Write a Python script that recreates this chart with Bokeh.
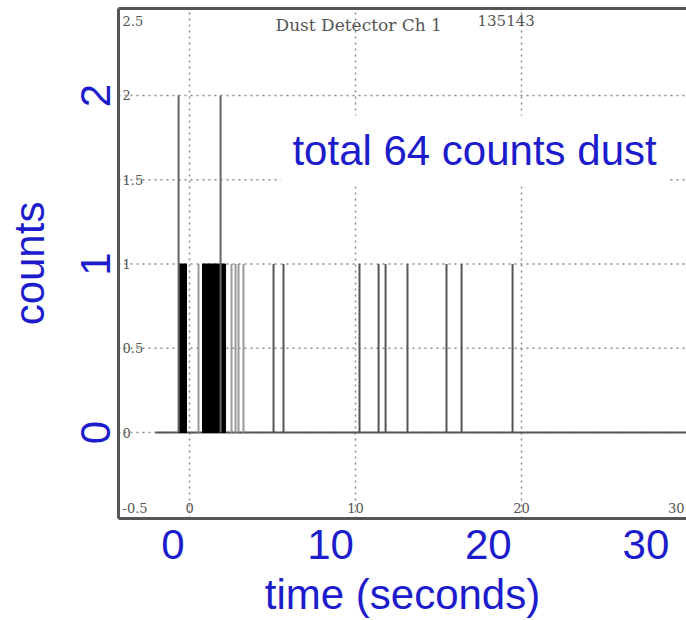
from bokeh.plotting import figure
from bokeh.models import Range1d, FixedTicker, LinearAxis, Label
from bokeh.core.properties import value
from bokeh.embed import file_html
from bokeh.resources import INLINE

# ---- blue overlay axes (time in seconds) ----
x_ticks = [0, 10, 20, 30]
y_ticks = [0, 1, 2]
x_title = "time (seconds)"
y_title = "counts"
note_text = "total 64 counts dust"
note_x = 7.58
note_y = 1.6

# ---- scanned detector plot (its own time axis) ----
scan_title = "Dust Detector  Ch 1"
scan_title_x = 5.18
scan_id = "135143"
scan_id_x = 17.35
scan_xgrid = [0, 10, 20]
scan_ygrid = [0, 0.5, 1, 1.5, 2]
scan_xtick_vals = [0, 10, 20]
scan_xtick_text = ["0", "10", "20"]
scan_xlast_text = "30"
scan_ytick_vals = [2, 1.5, 1, 0.5, 0]
scan_ytick_text = ["2", "1.5", "1", "0.5", "0"]
scan_ytop_text = "2.5"
scan_ybot_text = "-0.5"

# events (scan time units, counts)
double_times = [-0.66, 1.87]
double_counts = [2, 2]
single_times = [5.06, 5.66, 10.24, 11.39, 11.81, 13.13, 15.48, 16.39, 19.46]
single_counts = [1, 1, 1, 1, 1, 1, 1, 1, 1]
faint_times = [0.54, 2.53, 2.77, 2.95, 3.25]
faint_counts = [1, 1, 1, 1, 1]
burst_start = [-0.66, 0.78]
burst_end = [-0.18, 2.17]
burst_counts = [1, 1]
baseline_x = [-2.05, 30.5]

blue = "#1c1ccc"
ink = "#555555"

x_lo, x_hi = -3.45, 32.57
sx_lo, sx_hi = -4.28, 29.94
y_lo, y_hi = -0.51, 2.516

p = figure(width=686, height=620, x_range=Range1d(x_lo, x_hi), y_range=Range1d(y_lo, y_hi),
           output_backend="svg", toolbar_location=None,
           min_border_left=118, min_border_right=0, min_border_top=8, min_border_bottom=102)
p.extra_x_ranges = {"scan": Range1d(sx_lo, sx_hi)}
p.grid.visible = False
p.outline_line_color = None
p.background_fill_color = "white"
p.border_fill_color = "white"

# scanned grid (dotted)
p.segment(x0=scan_xgrid, y0=[y_lo] * len(scan_xgrid), x1=scan_xgrid, y1=[y_hi] * len(scan_xgrid),
          x_range_name="scan", line_color="#8a8a8a", line_width=1.5, line_dash="2 4")
p.segment(x0=[sx_lo] * len(scan_ygrid), y0=scan_ygrid, x1=[sx_hi] * len(scan_ygrid), y1=scan_ygrid,
          x_range_name="scan", line_color="#8a8a8a", line_width=1.5, line_dash="2 4")

# baseline
p.line(x=baseline_x, y=[0, 0], x_range_name="scan", line_color=ink, line_width=2)

# events
p.quad(left=burst_start, right=burst_end, bottom=0, top=burst_counts, x_range_name="scan",
       fill_color="black", line_color="black", line_width=1)
p.segment(x0=faint_times, y0=0, x1=faint_times, y1=faint_counts, x_range_name="scan",
          line_color="#9a9a9a", line_width=2)
p.segment(x0=single_times, y0=0, x1=single_times, y1=single_counts, x_range_name="scan",
          line_color=ink, line_width=2)
p.segment(x0=double_times, y0=0, x1=double_times, y1=double_counts, x_range_name="scan",
          line_color="#666666", line_width=2)

# scanned tick labels
serif = value("DejaVu Serif")
p.text(x=[sx_lo] * len(scan_ytick_vals), y=scan_ytick_vals, text=scan_ytick_text, x_range_name="scan",
       x_offset=4, text_font=serif, text_font_size="13px", text_color=ink,
       text_align="left", text_baseline="middle")
p.text(x=[sx_lo], y=[y_hi], text=[scan_ytop_text], x_range_name="scan", x_offset=4, y_offset=7,
       text_font=serif, text_font_size="13px", text_color=ink, text_align="left", text_baseline="top")
p.text(x=[sx_lo], y=[y_lo], text=[scan_ybot_text], x_range_name="scan", x_offset=4, y_offset=-6,
       text_font=serif, text_font_size="13px", text_color=ink, text_align="left", text_baseline="bottom")
p.text(x=scan_xtick_vals, y=[y_lo] * len(scan_xtick_vals), text=scan_xtick_text, x_range_name="scan",
       y_offset=-6, text_font=serif, text_font_size="13px", text_color=ink,
       text_align="center", text_baseline="bottom")
p.text(x=[sx_hi], y=[y_lo], text=[scan_xlast_text], x_range_name="scan",
       x_offset=-2, y_offset=-6, text_font=serif, text_font_size="13px", text_color=ink,
       text_align="right", text_baseline="bottom")
p.text(x=[scan_title_x], y=[y_hi], text=[scan_title], x_range_name="scan",
       y_offset=6, text_font=serif, text_font_size="17px", text_color=ink,
       text_align="left", text_baseline="top")
p.text(x=[scan_id_x], y=[y_hi], text=[scan_id], x_range_name="scan",
       y_offset=6, text_font=serif, text_font_size="15px", text_color=ink,
       text_align="left", text_baseline="top")

# blue note
p.add_layout(Label(x=note_x, y=note_y, x_offset=-12, y_offset=12, text=note_text,
                   text_font="Liberation Sans", text_font_size="42px", text_color=blue,
                   text_baseline="alphabetic", background_fill_color="white", padding=12))

# axes
sans = "Liberation Sans"
for ax in (p.xaxis[0], p.yaxis[0]):
    ax.axis_line_color = ink
    ax.axis_line_width = 3
    ax.major_tick_line_color = None
    ax.minor_tick_line_color = None
    ax.major_tick_out = 0
    ax.major_tick_in = 0
    ax.major_label_text_font = sans
    ax.major_label_text_font_size = "42px"
    ax.major_label_text_color = blue
    ax.axis_label_text_font = sans
    ax.axis_label_text_font_size = "42px"
    ax.axis_label_text_color = blue
    ax.axis_label_text_font_style = "normal"

p.xaxis[0].ticker = FixedTicker(ticks=x_ticks)
p.xaxis[0].axis_label = x_title
p.xaxis[0].major_label_standoff = 11
p.xaxis[0].axis_label_standoff = 9

p.yaxis[0].ticker = FixedTicker(ticks=y_ticks)
p.yaxis[0].axis_label = y_title
p.yaxis[0].major_label_orientation = "vertical"
p.yaxis[0].major_label_standoff = 8
p.yaxis[0].axis_label_standoff = 26

top = LinearAxis(ticker=FixedTicker(ticks=[]), axis_line_color=ink, axis_line_width=3,
                 major_tick_line_color=None, minor_tick_line_color=None,
                 major_tick_out=0, major_tick_in=0)
p.add_layout(top, "above")

open("out.html", "w").write(file_html(p, INLINE))
